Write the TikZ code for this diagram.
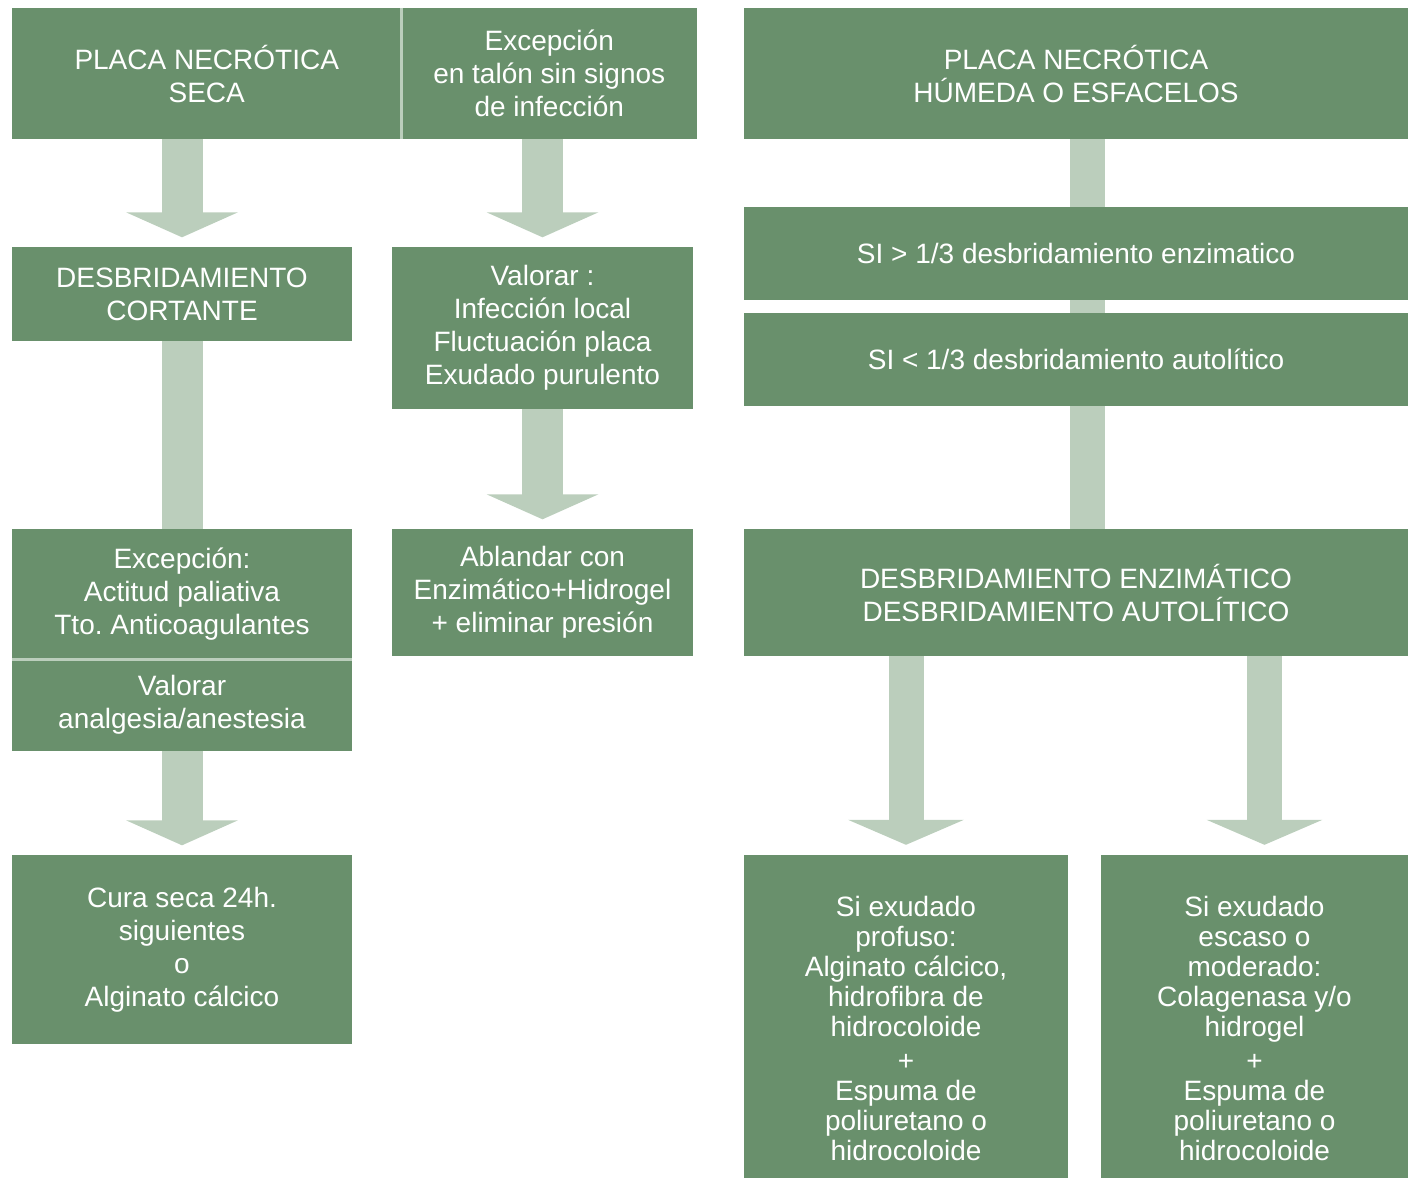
\documentclass[tikz,border=0pt]{standalone}
\usepackage{fontspec}
\setmainfont{Liberation Sans}
\usepackage{xcolor}
\usetikzlibrary{arrows.meta}

\definecolor{boxgreen}{RGB}{105,144,108}
\definecolor{shaftgreen}{RGB}{187,206,188}

\begin{document}
\begin{tikzpicture}[x=1pt,y=1pt,yscale=-1,xscale=1,
  box/.style={fill=boxgreen,text=white,align=center,inner sep=0pt,font=\fontsize{28}{33}\selectfont},
  tallbox/.style={box,font=\fontsize{28}{30}\selectfont},
  shaft/.style={draw=shaftgreen,line width=41pt},
  flow/.style={shaft,-{Triangle[width=111pt,length=25pt]},shorten >=9.5pt},
  rshaft/.style={draw=shaftgreen,line width=35pt},
  rflow/.style={rshaft,-{Triangle[width=115pt,length=25pt]},shorten >=10pt},
  sep/.style={draw=shaftgreen,line width=3pt}]
\useasboundingbox (0,0) rectangle (1408,1179);

%Shape: Rectangle - left column
\node[box,minimum width=389.5pt,minimum height=131pt] (A) at (206.75,73.5) {PLACA NECRÓTICA\\SECA};
\node[box,minimum width=340pt,minimum height=94pt] (D) at (182,294) {DESBRIDAMIENTO\\CORTANTE};
\node[box,minimum width=340pt,minimum height=130pt] (F) at (182,594) {Excepción:\\Actitud paliativa\\Tto.\ Anticoagulantes};
\node[box,minimum width=340pt,minimum height=92pt] (G) at (182,705) {Valorar\\analgesia/anestesia};
\node[box,minimum width=340pt,minimum height=189pt] (I) at (182,949.5) {Cura seca 24h.\\siguientes\\o\\Alginato cálcico};

%Shape: Rectangle - middle column
\node[box,minimum width=295.5pt,minimum height=131pt] (B) at (549.25,73.5) {Excepción\\en talón sin signos\\de infección};
\node[box,minimum width=301pt,minimum height=162pt] (E) at (542.5,328) {Valorar :\\Infección local\\Fluctuación placa\\Exudado purulento};
\node[box,minimum width=301pt,minimum height=127pt] (H) at (542.5,592.5) {Ablandar con\\Enzimático+Hidrogel\\+ eliminar presión};

%Shape: Rectangle - right column
\node[box,minimum width=664pt,minimum height=131pt] (C) at (1076,73.5) {PLACA NECRÓTICA\\HÚMEDA O ESFACELOS};
\node[box,minimum width=664pt,minimum height=93pt] (J) at (1076,253.5) {SI > 1/3 desbridamiento enzimatico};
\node[box,minimum width=664pt,minimum height=93pt] (K) at (1076,359.5) {SI < 1/3 desbridamiento autolítico};
\node[box,minimum width=664pt,minimum height=127pt] (L) at (1076,592.5) {DESBRIDAMIENTO ENZIMÁTICO\\DESBRIDAMIENTO AUTOLÍTICO};
\node[tallbox,minimum width=324pt,minimum height=323pt] (M) at (906,1016.5) {\rule{0pt}{44pt}Si exudado\\profuso:\\Alginato cálcico,\\hidrofibra de\\hidrocoloide\\[4pt]+\\Espuma de\\poliuretano o\\hidrocoloide};
\node[tallbox,minimum width=307pt,minimum height=323pt] (N) at (1254.5,1016.5) {\rule{0pt}{44pt}Si exudado\\escaso o\\moderado:\\Colagenasa y/o\\hidrogel\\[4pt]+\\Espuma de\\poliuretano o\\hidrocoloide};

%Straight Lines - separators
\draw[sep] (A.north east) -- (A.south east);
\draw[sep] (F.south west) -- (F.south east);

%Straight Lines - left and middle arrows
\draw[flow] (A.south -| D.north) -- (D.north);
\draw[shaft] (D.south) -- (F.north);
\draw[flow] (G.south) -- (I.north);
\draw[flow] (B.south -| E.north) -- (E.north);
\draw[flow] (E.south) -- (H.north);

%Straight Lines - right arrows
\coordinate (axis) at ([xshift=11pt]C.south);
\coordinate (ntop) at ([xshift=10pt]N.north);
\draw[rshaft] (axis) -- (axis |- J.north);
\draw[rshaft] (axis |- J.south) -- (axis |- K.north);
\draw[rshaft] (axis |- K.south) -- (axis |- L.north);
\draw[rflow] (L.south -| M.north) -- (M.north);
\draw[rflow] (ntop |- L.south) -- (ntop);
\end{tikzpicture}
\end{document}
